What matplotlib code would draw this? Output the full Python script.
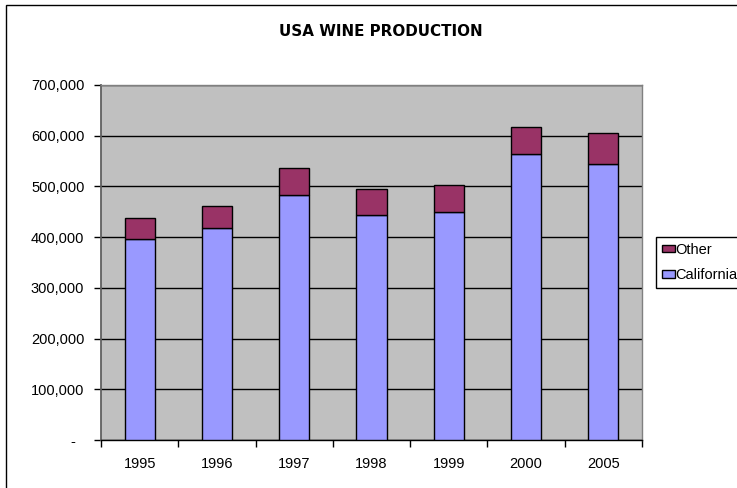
import matplotlib
matplotlib.use("Agg")
import matplotlib.pyplot as plt
from matplotlib.patches import Rectangle
from matplotlib.legend_handler import HandlerPatch
from matplotlib.ticker import FixedLocator, FuncFormatter

plt.rcParams['font.family'] = ['Liberation Sans', 'DejaVu Sans']

years = ["1995", "1996", "1997", "1998", "1999", "2000", "2005"]
california = [396000, 417500, 482500, 444400, 449700, 564700, 543800]
other = [41000, 43500, 53500, 50600, 52700, 53300, 61200]
yticks = [0, 100000, 200000, 300000, 400000, 500000, 600000, 700000]

W, H = 737, 488
fig = plt.figure(figsize=(W / 100, H / 100), dpi=100)
fig.patch.set_facecolor('white')

L, R, T, B = 101, 642, 85, 440
ax = fig.add_axes([L / W, 1 - B / H, (R - L) / W, (B - T) / H])
ax.set_facecolor('#C0C0C0')

x = list(range(len(years)))
bw = 0.39
ax.bar(x, california, width=bw, color='#9999FF', edgecolor='black', linewidth=1, zorder=3, label='California')
ax.bar(x, other, width=bw, bottom=california, color='#993366', edgecolor='black', linewidth=1, zorder=3, label='Other')

ax.set_xlim(-0.5, len(years) - 0.5)
ax.set_ylim(0, 700000)

ax.set_yticks(yticks)
ax.yaxis.set_major_formatter(FuncFormatter(lambda v, p: "-  " if v == 0 else f"{int(v):,}"))
ax.grid(axis='y', color='black', linewidth=1, zorder=1)
ax.set_axisbelow(True)

ax.xaxis.set_major_locator(FixedLocator([i - 0.5 for i in range(len(years) + 1)]))
ax.xaxis.set_major_formatter(FuncFormatter(lambda v, p: ""))
ax.xaxis.set_minor_locator(FixedLocator(x))
ax.set_xticklabels(years, minor=True)
ax.tick_params(axis='x', which='major', length=5, width=1, color='black', direction='out')
ax.tick_params(axis='x', which='minor', length=0, pad=12.5, labelsize=10.5)
ax.tick_params(axis='y', length=5, width=1, color='black', direction='out', pad=7, labelsize=10.5)

for s in ['top', 'right']:
    ax.spines[s].set_color('#808080')
    ax.spines[s].set_linewidth(1)
ax.spines['left'].set_color('#606060')
ax.spines['left'].set_linewidth(1.3)
ax.spines['bottom'].set_color('black')
ax.spines['bottom'].set_linewidth(1)

fig.text(381 / W, 1 - 32 / H, "USA WINE PRODUCTION", ha='center', va='center',
         fontsize=10.9, fontweight='bold', family='DejaVu Sans')


def small_square(legend, orig_handle, xdescent, ydescent, width, height, fontsize):
    s = 6.0
    return Rectangle((-xdescent + width - s, -ydescent + (height - s) / 2), s, s)


h, l = ax.get_legend_handles_labels()
leg = fig.legend(h[::-1], l[::-1], loc='upper left', bbox_to_anchor=(655.5 / W, 1 - 236.5 / H),
                 frameon=True, fancybox=False, edgecolor='black', framealpha=1,
                 fontsize=10.5, handlelength=0.9, handleheight=0.45, handletextpad=0.05,
                 borderpad=0.42, labelspacing=0.8, borderaxespad=0,
                 handler_map={Rectangle: HandlerPatch(patch_func=small_square)})
leg.get_frame().set_linewidth(1)

fig.patches.append(Rectangle((6 / W, -0.1), 2, 1.1 - 5 / H, transform=fig.transFigure,
                             fill=False, edgecolor='black', linewidth=1))

fig.savefig("out.png", dpi=100)
